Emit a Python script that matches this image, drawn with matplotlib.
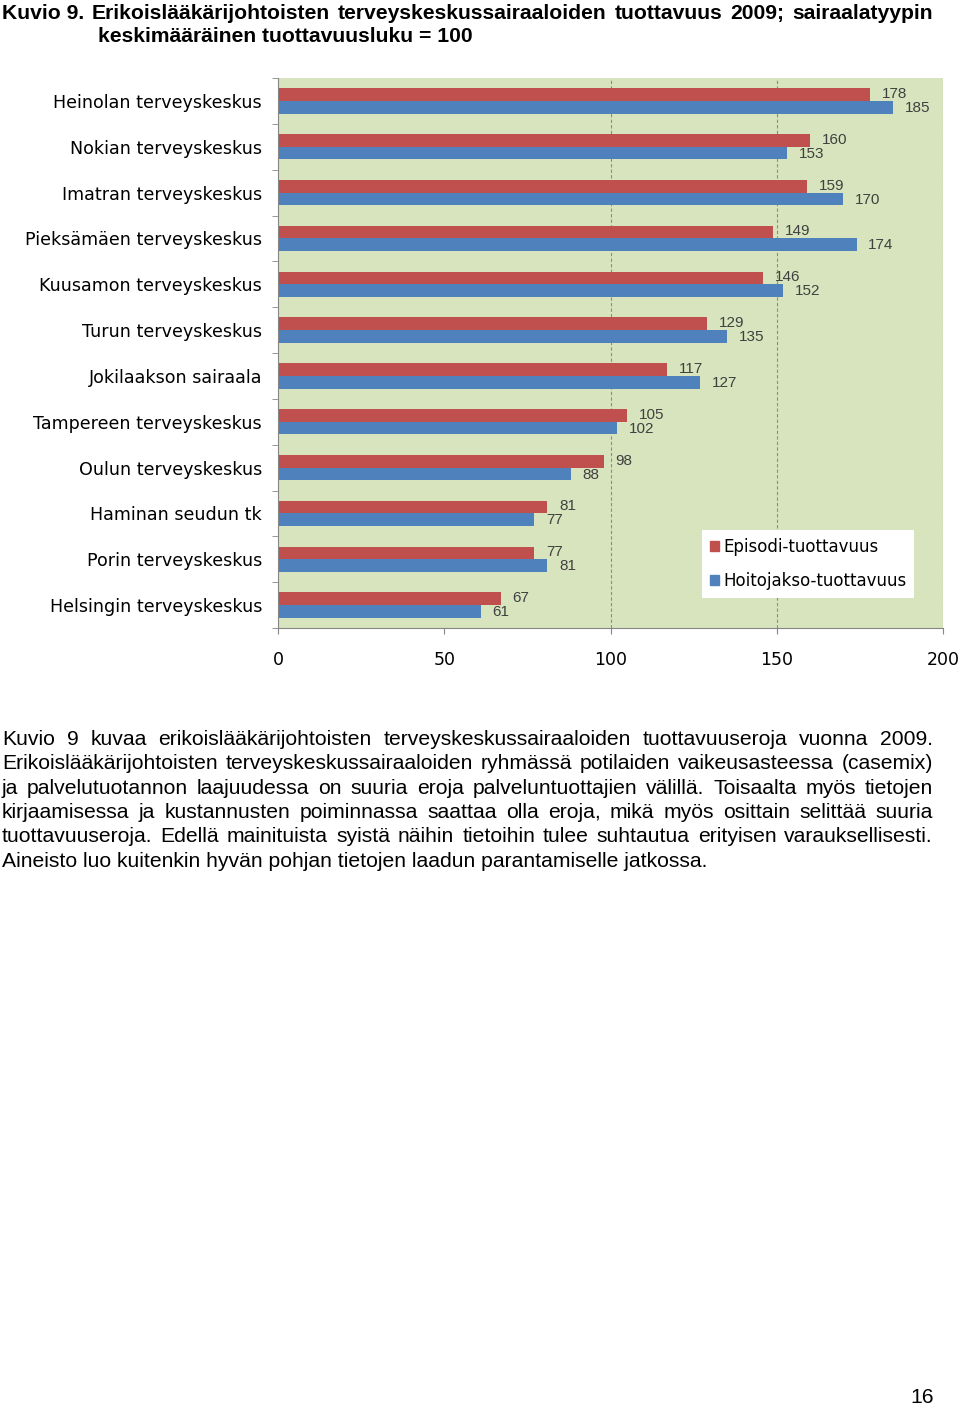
import matplotlib
matplotlib.use("Agg")
import matplotlib.pyplot as plt
import numpy as np
from matplotlib.patches import Patch

W, H = 960, 1406

CATEGORIES = [
    "Heinolan terveyskeskus",
    "Nokian terveyskeskus",
    "Imatran terveyskeskus",
    "Pieksämäen terveyskeskus",
    "Kuusamon terveyskeskus",
    "Turun terveyskeskus",
    "Jokilaakson sairaala",
    "Tampereen terveyskeskus",
    "Oulun terveyskeskus",
    "Haminan seudun tk",
    "Porin terveyskeskus",
    "Helsingin terveyskeskus",
]
EPISODI = [178, 160, 159, 149, 146, 129, 117, 105, 98, 81, 77, 67]
HOITOJAKSO = [185, 153, 170, 174, 152, 135, 127, 102, 88, 77, 81, 61]
SERIES_NAMES = ["Episodi-tuottavuus", "Hoitojakso-tuottavuus"]
X_TICKS = [0, 50, 100, 150, 200]
GRID_X = [100, 150, 200]

TITLE_LEAD = "Kuvio 9."
TITLE_LINE1 = "Erikoislääkärijohtoisten terveyskeskussairaaloiden tuottavuus 2009; sairaalatyypin"
TITLE_LINE2 = "keskimääräinen tuottavuusluku = 100"
BODY_LINES = [
    "Kuvio 9 kuvaa erikoislääkärijohtoisten terveyskeskussairaaloiden tuottavuuseroja vuonna 2009.",
    "Erikoislääkärijohtoisten terveyskeskussairaaloiden ryhmässä potilaiden vaikeusasteessa (casemix)",
    "ja palvelutuotannon laajuudessa on suuria eroja palveluntuottajien välillä. Toisaalta myös tietojen",
    "kirjaamisessa ja kustannusten poiminnassa saattaa olla eroja, mikä myös osittain selittää suuria",
    "tuottavuuseroja. Edellä mainituista syistä näihin tietoihin tulee suhtautua erityisen varauksellisesti.",
    "Aineisto luo kuitenkin hyvän pohjan tietojen laadun parantamiselle jatkossa.",
]
PAGE_NO = "16"

RED = "#C0504D"
BLUE = "#4F81BD"
PLOT_BG = "#D7E4BD"
AXIS_GREY = "#868686"


def fx(x):
    return x / W


def fy(y):
    return 1 - y / H


def _width(fig, renderer, s, **kw):
    t = fig.text(0, 0, s, **kw)
    w = t.get_window_extent(renderer).width
    t.remove()
    return w


def _fit_size(fig, renderer, s, width, **kw):
    return 10 * width / _width(fig, renderer, s, fontsize=10, **kw)


def _baseline(center_y, size):
    # centre of capitals -> baseline, in pixels
    return center_y + 0.358 * size * 100 / 72


def _justified(fig, renderer, line, x0, x1, y, **kw):
    words = line.split()
    widths = [_width(fig, renderer, w, **kw) for w in words]
    gap = (x1 - x0 - sum(widths)) / (len(words) - 1)
    x = x0
    for word, wd in zip(words, widths):
        fig.text(fx(x), fy(y), word, ha="left", va="baseline", **kw)
        x += wd + gap


def main() -> None:
    fig = plt.figure(figsize=(W / 100, H / 100), dpi=100)
    renderer = fig.canvas.get_renderer()

    # title
    tkw = dict(family="Liberation Sans", weight="bold")
    tsize = _fit_size(fig, renderer, TITLE_LINE2, 377, **tkw)
    b1 = _baseline(11.5, tsize)
    b2 = _baseline(34.5, tsize)
    fig.text(fx(2), fy(b1), TITLE_LEAD, ha="left", va="baseline", fontsize=tsize, **tkw)
    _justified(fig, renderer, TITLE_LINE1, 92, 933, b1, fontsize=tsize, **tkw)
    fig.text(fx(98), fy(b2), TITLE_LINE2, ha="left", va="baseline", fontsize=tsize, **tkw)

    # chart
    ax = fig.add_axes([fx(278), fy(628), fx(943) - fx(278), (628 - 78) / H])
    ax.set_facecolor(PLOT_BG)
    y = np.arange(len(CATEGORIES))
    h = 0.275
    ax.barh(y - h / 2, EPISODI, height=h, color=RED, zorder=2)
    ax.barh(y + h / 2, HOITOJAKSO, height=h, color=BLUE, zorder=2)
    for gx in GRID_X:
        ax.axvline(gx, color="#8c8c8c", lw=0.8, ls=(0, (3, 2)), zorder=1)

    lkw = dict(textcoords="offset points", va="center", ha="left",
               fontsize=11, color="#404040", family="Liberation Sans", zorder=3)
    for i, v in enumerate(EPISODI):
        ax.annotate(str(v), (v, i - h / 2), xytext=(8.5, 0.5), **lkw)
    for i, v in enumerate(HOITOJAKSO):
        ax.annotate(str(v), (v, i + h / 2), xytext=(8.5, -0.5), **lkw)

    ax.set_xlim(0, 200)
    ax.set_ylim(len(CATEGORIES) - 0.5, -0.5)
    ax.set_yticks(y)
    ax.set_yticklabels(CATEGORIES, fontsize=12.6, family="DejaVu Sans", color="black")
    ax.tick_params(axis="y", which="major", length=0, pad=11.5)
    ax.set_yticks(np.arange(-0.5, len(CATEGORIES)), minor=True)
    ax.tick_params(axis="y", which="minor", length=4.5, color=AXIS_GREY)
    ax.set_xticks(X_TICKS)
    ax.tick_params(axis="x", length=4.5, color=AXIS_GREY, pad=12, labelsize=12.5)
    for spine in ["top", "right"]:
        ax.spines[spine].set_visible(False)
    for spine in ["left", "bottom"]:
        ax.spines[spine].set_color(AXIS_GREY)

    leg = ax.legend(
        handles=[Patch(color=RED), Patch(color=BLUE)],
        labels=SERIES_NAMES,
        loc="upper left",
        bbox_to_anchor=(0.638, 0.178),
        frameon=True,
        fancybox=False,
        framealpha=1,
        edgecolor="white",
        fontsize=12,
        handlelength=0.55,
        handleheight=0.55,
        handletextpad=0.25,
        labelspacing=1.0,
        borderpad=0.45,
        borderaxespad=0,
    )
    leg.get_frame().set_linewidth(0)

    # body text
    bkw = dict(family="Liberation Sans")
    bsize = _fit_size(fig, renderer, BODY_LINES[-1], 710, **bkw)
    body_y = [737, 761, 786, 810, 834, 859]
    for line, yy in zip(BODY_LINES[:-1], body_y[:-1]):
        _justified(fig, renderer, line, 2, 933, _baseline(yy, bsize), fontsize=bsize, **bkw)
    fig.text(fx(2), fy(_baseline(body_y[-1], bsize)), BODY_LINES[-1],
             ha="left", va="baseline", fontsize=bsize, **bkw)

    fig.text(fx(922), fy(_baseline(1395, bsize)), PAGE_NO, ha="center", va="baseline",
             fontsize=bsize, **bkw)

    fig.savefig("out.png", dpi=100, facecolor="white")


if __name__ == "__main__":
    main()
